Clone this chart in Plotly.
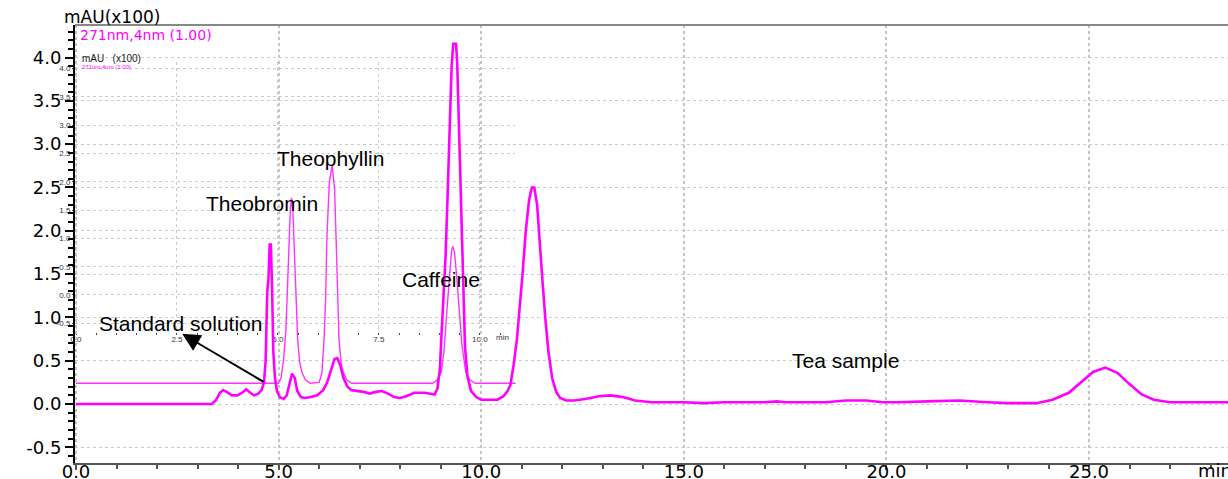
import plotly.graph_objects as go

# ---------------- data ----------------
# Tea sample chromatogram (thick trace), retention time [min] / absorbance [mAU x100]
tea_time = [0.00, 3.35, 3.45, 3.55, 3.63, 3.72, 3.85, 3.98, 4.10, 4.20, 4.30, 4.40, 4.50,
            4.58, 4.64, 4.68, 4.72, 4.75, 4.78, 4.81, 4.84, 4.87, 4.91, 4.96, 5.03, 5.12,
            5.20, 5.27, 5.33, 5.40, 5.46, 5.55, 5.65, 5.80, 5.95, 6.10, 6.20, 6.30, 6.38,
            6.45, 6.52, 6.60, 6.70, 6.80, 6.95, 7.10, 7.25, 7.40, 7.55, 7.70, 7.85, 8.00,
            8.15, 8.35, 8.60, 8.78, 8.85, 8.92, 8.98, 9.02, 9.07, 9.12, 9.17, 9.22, 9.27,
            9.31, 9.38, 9.41, 9.45, 9.50, 9.54, 9.57, 9.60, 9.66, 9.75, 9.88, 10.00, 10.20,
            10.40, 10.55, 10.65, 10.72, 10.80, 10.88, 10.95, 11.02, 11.10, 11.18, 11.25,
            11.31, 11.38, 11.44, 11.50, 11.58, 11.66, 11.75, 11.85, 11.95, 12.10, 12.30,
            12.60, 12.90, 13.20, 13.50, 13.80, 14.20, 15.00, 15.50, 16.00, 17.00, 17.30,
            17.50, 18.50, 19.00, 19.50, 19.90, 20.30, 21.00, 21.80, 22.50, 23.00, 23.70,
            24.10, 24.50, 24.80, 25.10, 25.40, 25.70, 26.00, 26.30, 26.60, 27.00, 28.43]
tea_abs = [0.00, 0.00, 0.04, 0.13, 0.16, 0.14, 0.10, 0.10, 0.13, 0.17, 0.13, 0.10, 0.12,
           0.16, 0.25, 0.50, 1.30, 1.45, 1.84, 1.84, 1.30, 0.60, 0.30, 0.15, 0.08, 0.06,
           0.10, 0.25, 0.35, 0.30, 0.15, 0.08, 0.07, 0.08, 0.10, 0.16, 0.25, 0.40, 0.52,
           0.53, 0.45, 0.30, 0.20, 0.16, 0.15, 0.14, 0.12, 0.14, 0.15, 0.12, 0.08, 0.07,
           0.09, 0.13, 0.13, 0.12, 0.11, 0.18, 0.40, 0.80, 1.20, 1.70, 2.40, 3.30, 3.90,
           4.16, 4.16, 3.90, 3.20, 2.40, 1.70, 1.10, 0.66, 0.32, 0.15, 0.08, 0.05, 0.05,
           0.05, 0.09, 0.15, 0.22, 0.45, 0.74, 1.10, 1.50, 2.00, 2.35, 2.50,
           2.50, 2.30, 1.95, 1.50, 1.00, 0.60, 0.30, 0.14, 0.07, 0.04, 0.04,
           0.06, 0.09, 0.10, 0.08, 0.04, 0.02, 0.02, 0.01, 0.02, 0.02, 0.03,
           0.02, 0.02, 0.04, 0.04, 0.02, 0.02, 0.03, 0.04, 0.02, 0.01, 0.01,
           0.05, 0.13, 0.25, 0.37, 0.42, 0.36, 0.23, 0.11, 0.05, 0.02, 0.02]

# Standard solution chromatogram (thin trace)
std_time = [0.00, 5.00, 5.06, 5.12, 5.18, 5.22, 5.26, 5.29, 5.32, 5.35, 5.39, 5.43, 5.47,
            5.52, 5.58, 5.66, 5.78, 6.00, 6.07, 6.12, 6.16, 6.19, 6.25, 6.32, 6.38, 6.42,
            6.46, 6.49, 6.55, 6.60, 6.68, 6.80, 8.80, 8.90, 9.01, 9.08, 9.16, 9.22, 9.27,
            9.30, 9.34, 9.40, 9.45, 9.52, 9.62, 9.72, 9.85, 10.85]
std_abs = [0.24, 0.24, 0.30, 0.50, 0.85, 1.30, 1.85, 2.25, 2.38, 2.25, 1.75, 1.15, 0.75,
           0.48, 0.36, 0.28, 0.24, 0.25, 0.36, 0.74, 1.20, 1.89, 2.55, 2.76, 2.50, 1.89,
           1.20, 0.74, 0.45, 0.36, 0.28, 0.24, 0.24, 0.27, 0.36, 0.60, 1.12, 1.55, 1.78,
           1.82, 1.75, 1.45, 1.12, 0.70, 0.36, 0.28, 0.24, 0.24]

# tick labels
main_xticks = [0, 5, 10, 15, 20, 25]
main_xlabels = ["0.0", "5.0", "10.0", "15.0", "20.0", "25.0"]
main_yticks = [-0.5, 0.0, 0.5, 1.0, 1.5, 2.0, 2.5, 3.0, 3.5, 4.0]
main_ylabels = ["-0.5", "0.0", "0.5", "1.0", "1.5", "2.0", "2.5", "3.0", "3.5", "4.0"]
inset_xticks = [0, 2.5, 5, 7.5, 10]
inset_xlabels = ["0.0", "2.5", "5.0", "7.5", "10.0"]
inset_yticks = [-0.5, 0.0, 0.5, 1.0, 1.5, 2.0, 2.5, 3.0, 3.5, 4.0]
inset_ylabels = ["-0.5", "0.0", "0.5", "1.0", "1.5", "2.0", "2.5", "3.0", "3.5", "4.0"]

MAG = "#ff00ff"
GRID = "#cccccc"

fig = go.Figure()
# inset axes (drawn first, underneath)
fig.add_trace(go.Scatter(x=[None], y=[None], xaxis="x", yaxis="y", mode="lines",
                         showlegend=False, hoverinfo="skip"))
# main traces
fig.add_trace(go.Scatter(x=std_time, y=std_abs, xaxis="x2", yaxis="y2", mode="lines",
                         line=dict(color="#ff33ff", width=1.4), showlegend=False,
                         name="Standard solution"))
fig.add_trace(go.Scatter(x=tea_time, y=tea_abs, xaxis="x2", yaxis="y2", mode="lines",
                         line=dict(color=MAG, width=2.6), showlegend=False,
                         name="Tea sample"))

big_font = dict(family="DejaVu Sans", size=18, color="black")
small_font = dict(family="Liberation Sans", size=8, color="#333333")

fig.update_layout(
    template="none",
    width=1228, height=479, autosize=False,
    margin=dict(l=75, r=0, t=25, b=16, autoexpand=False),
    paper_bgcolor="white", plot_bgcolor="rgba(0,0,0,0)",
    showlegend=False,
    # main axes
    xaxis2=dict(domain=[0, 1], anchor="y2", range=[-0.025, 28.43], automargin=False,
                tickmode="array", tickvals=main_xticks, ticktext=main_xlabels,
                ticks="outside", ticklen=5, tickwidth=1.5, tickcolor="#555555",
                ticklabelstandoff=-14,
                minor=dict(tickmode="linear", tick0=0, dtick=1, ticks="outside",
                           ticklen=4, tickcolor="#555555", showgrid=False),
                showline=True, linecolor="#555555", linewidth=2,
                showgrid=True, gridcolor="#c4c4c4", griddash="dot", gridwidth=1.5,
                zeroline=False, tickfont=big_font),
    yaxis2=dict(domain=[0, 1], anchor="x2", range=[-0.681, 4.376], automargin=False,
                tickmode="array", tickvals=main_yticks, ticktext=main_ylabels,
                ticks="outside", ticklen=8, tickwidth=1.5, tickcolor="black",
                minor=dict(tickmode="linear", tick0=0, dtick=0.1, ticks="outside",
                           ticklen=5, tickcolor="black", showgrid=False),
                showline=True, linecolor="black", linewidth=2,
                showgrid=True, gridcolor=GRID, griddash="dot", gridwidth=1,
                zeroline=False, tickfont=big_font),
    # inset axes (standard solution chromatogram frame)
    xaxis=dict(domain=[0, 0.3816], anchor="y", range=[-0.025, 10.87], automargin=False,
               tickmode="array", tickvals=inset_xticks, ticktext=inset_xlabels,
               ticks="outside", ticklen=2, tickcolor="#444444",
               ticklabelstandoff=-3,
               minor=dict(tickmode="linear", tick0=0, dtick=0.5, ticks="outside",
                          ticklen=2, tickcolor="#444444", showgrid=False),
               showline=False, showgrid=True, gridcolor=GRID, griddash="dot",
               zeroline=False, tickfont=small_font),
    yaxis=dict(domain=[0.2991, 0.9155], anchor="x", range=[-0.654, 4.117], automargin=False,
               tickmode="array", tickvals=inset_yticks, ticktext=inset_ylabels,
               ticks="outside", ticklen=2, tickcolor="#444444",
               showline=False, showgrid=True, gridcolor=GRID, griddash="dot",
               zeroline=False, tickfont=small_font),
)

# top frame line
fig.add_shape(type="line", xref="paper", yref="paper", x0=0, x1=1, y0=1, y1=1,
              line=dict(color="#888888", width=2))

# axis titles / headers
fig.add_annotation(text="mAU(x100)", xref="paper", yref="paper", x=-0.0113, y=1.019,
                   xanchor="left", yanchor="middle", showarrow=False,
                   font=dict(family="DejaVu Sans", size=17, color="black"))
fig.add_annotation(text="271nm,4nm (1.00)", xref="paper", yref="paper", x=0.003, y=0.978,
                   xanchor="left", yanchor="middle", showarrow=False,
                   font=dict(family="DejaVu Sans", size=14, color=MAG))
fig.add_annotation(text="min", xref="x2", yref="paper", x=27.64, y=-0.016,
                   xanchor="left", yanchor="middle", showarrow=False, font=big_font)
# inset headers
fig.add_annotation(text="mAU   (x100)", xref="paper", yref="paper", x=0.004, y=0.923,
                   xanchor="left", yanchor="middle", showarrow=False,
                   font=dict(family="Liberation Sans", size=10, color="#222222"))
fig.add_annotation(text="271nm,4nm (1.00)", xref="paper", yref="paper", x=0.004, y=0.904,
                   xanchor="left", yanchor="middle", showarrow=False,
                   font=dict(family="Liberation Sans", size=6, color=MAG))
fig.add_annotation(text="min", xref="x", yref="paper", x=10.57, y=0.2854,
                   xanchor="center", yanchor="middle", showarrow=False, font=small_font)

# peak labels
lab_font = dict(family="Liberation Sans", size=21, color="black")
for txt, xx, yy in [("Theophyllin", 6.29, 2.84), ("Theobromin", 4.59, 2.31),
                    ("Caffeine", 9.01, 1.44), ("Standard solution", 2.59, 0.935),
                    ("Tea sample", 18.98, 0.50)]:
    fig.add_annotation(text=txt, xref="x2", yref="y2", x=xx, y=yy, showarrow=False,
                       font=lab_font, xanchor="center", yanchor="middle")

# arrow pointing to the standard solution label
fig.add_annotation(text="", xref="x2", yref="y2", x=2.62, y=0.81,
                   ax=83, ay=49, showarrow=True, arrowhead=2, arrowsize=1.8,
                   arrowwidth=2, arrowcolor="black")

fig.write_html("out.html")
